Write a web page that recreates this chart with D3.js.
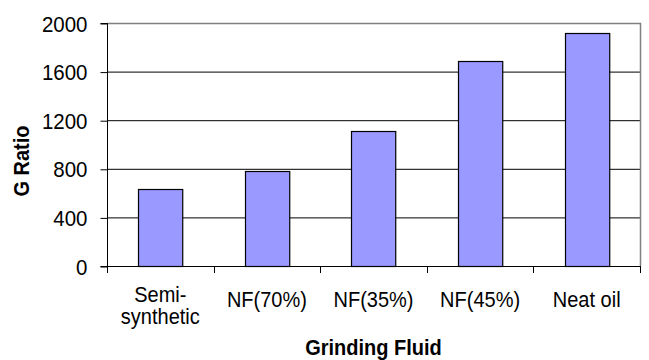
<!DOCTYPE html>
<html>
<head>
<meta charset="utf-8">
<script src="https://cdn.jsdelivr.net/npm/d3@7"></script>
<style>
  html, body { margin: 0; padding: 0; background: #fff; }
  svg { display: block; font-family: "Liberation Sans", Arial, sans-serif; }
</style>
</head>
<body>
<svg id="chart" width="649" height="360"></svg>
<script>
// G ratio by grinding fluid
const categories = [["Semi-", "synthetic"], ["NF(70%)"], ["NF(35%)"], ["NF(45%)"], ["Neat oil"]];
const gRatio = [630, 780, 1110, 1690, 1920];
const yTicks = [0, 400, 800, 1200, 1600, 2000];

const svg = d3.select("#chart");
const margin = { left: 107, top: 23, right: 9, bottom: 94 };
const W = 649, H = 360;
const x0 = margin.left, x1 = W - margin.right;
const y0 = H - margin.bottom, y1 = margin.top;
const stretch = 1.1; // glyphs are drawn slightly tall

const keys = categories.map(c => c.join(""));
const x = d3.scaleBand().domain(keys).range([x0, x1]).paddingInner(0.585).paddingOuter(0.2925);
const y = d3.scaleLinear().domain([0, 2000]).range([y0, y1]);

// horizontal gridlines
svg.append("g")
  .selectAll("line")
  .data(yTicks.filter(t => t > 0))
  .join("line")
  .attr("x1", x0).attr("x2", x1)
  .attr("y1", d => y(d) + 0.5).attr("y2", d => y(d) + 0.5)
  .attr("stroke", "#000").attr("stroke-width", 1);

// plot frame (top and right in grey)
svg.append("path")
  .attr("d", `M${x0},${y1 + 0.5}H${x1 + 0.5}V${y0}`)
  .attr("fill", "none").attr("stroke", "#808080").attr("stroke-width", 1.5);

// bars
svg.append("g")
  .selectAll("rect")
  .data(gRatio)
  .join("rect")
  .attr("x", (d, i) => Math.round(x(keys[i])) + 0.5)
  .attr("y", d => Math.round(y(d)) + 0.5)
  .attr("width", x.bandwidth())
  .attr("height", d => y(0) - Math.round(y(d)))
  .attr("fill", "#9999ff")
  .attr("stroke", "#000").attr("stroke-width", 1.2);

// y axis
const yAxis = d3.axisLeft(y).tickValues(yTicks).tickSize(7).tickPadding(13).tickFormat(d3.format("d"));
const gy = svg.append("g").attr("transform", `translate(${x0 + 0.5},0.5)`).call(yAxis);
gy.select(".domain").attr("d", `M-7,${y1}H0V${y0}H-7`).attr("stroke", "#000");
gy.selectAll(".tick line").attr("stroke", "#000");
gy.selectAll(".tick text")
  .attr("font-size", 20.5).attr("font-family", "Liberation Sans, Arial, sans-serif")
  .attr("fill", "#000").attr("dy", "0.34em")
  .attr("transform", `scale(1,${stretch})`);

// x axis line and ticks at category boundaries
const step = (x1 - x0) / keys.length;
svg.append("line")
  .attr("x1", x0).attr("x2", x1 + 0.5)
  .attr("y1", y0 + 0.5).attr("y2", y0 + 0.5)
  .attr("stroke", "#000");
svg.append("g")
  .selectAll("line")
  .data(d3.range(keys.length + 1))
  .join("line")
  .attr("x1", i => Math.round(x0 + i * step) + 0.5).attr("x2", i => Math.round(x0 + i * step) + 0.5)
  .attr("y1", y0).attr("y2", y0 + 7)
  .attr("stroke", "#000");

// category labels
const lab = svg.append("g")
  .selectAll("text")
  .data(categories)
  .join("text")
  .attr("text-anchor", "middle")
  .attr("font-size", 20)
  .attr("fill", "#000")
  .attr("transform", (c, i) => `translate(${x(keys[i]) + x.bandwidth() / 2},${c.length > 1 ? 302 : 307}) scale(1,${stretch})`);
lab.selectAll("tspan")
  .data(c => c)
  .join("tspan")
  .attr("x", 0)
  .attr("dy", (d, j) => j === 0 ? 0 : 20)
  .text(d => d);

// axis titles
svg.append("text")
  .attr("transform", `translate(${(x0 + x1) / 2},355) scale(1,${stretch})`)
  .attr("text-anchor", "middle")
  .attr("font-size", 20).attr("font-weight", "bold")
  .text("Grinding Fluid");

svg.append("text")
  .attr("transform", `translate(29,161) rotate(-90) scale(1,${stretch})`)
  .attr("text-anchor", "middle")
  .attr("font-size", 20).attr("font-weight", "bold")
  .text("G Ratio");
</script>
</body>
</html>
